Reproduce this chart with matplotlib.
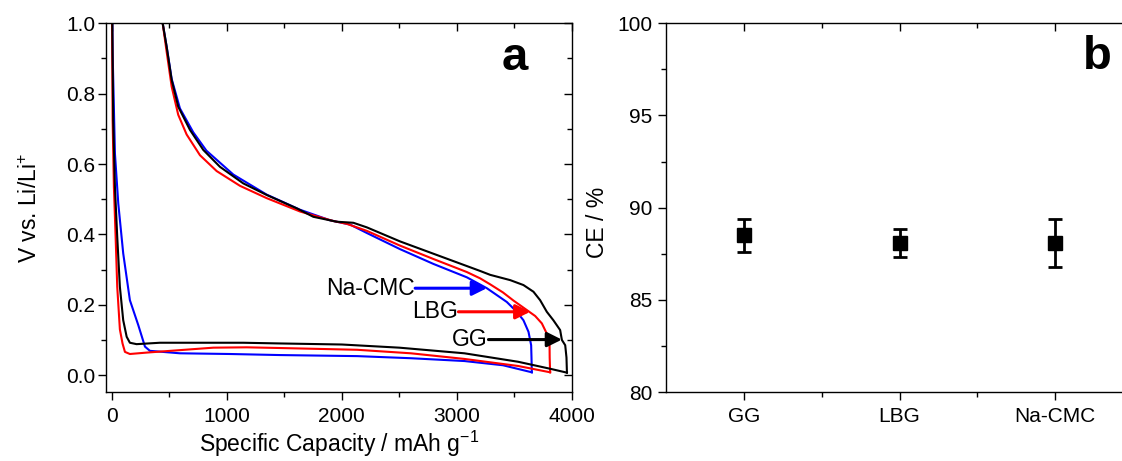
import matplotlib
matplotlib.use('Agg')
import matplotlib.pyplot as plt
from matplotlib.ticker import MultipleLocator, FixedLocator, FormatStrFormatter

plt.rcParams['font.family'] = ['Liberation Sans', 'DejaVu Sans']
plt.rcParams['mathtext.fontset'] = 'custom'
plt.rcParams['mathtext.rm'] = 'Liberation Sans'
plt.rcParams['mathtext.it'] = 'Liberation Sans'

# --- first-cycle voltage profiles (capacity in mAh/g, voltage in V) ---
gg_lith_x = [0, 5, 13, 28, 48, 71, 100, 130, 158, 216, 419, 1143, 1463, 2000, 2500,
             3065, 3531, 3811, 3956]
gg_lith_y = [1.2, 1.0, 0.725, 0.535, 0.393, 0.251, 0.156, 0.109, 0.092, 0.088, 0.092,
             0.092, 0.090, 0.087, 0.078, 0.062, 0.038, 0.018, 0.007]
gg_delith_x = [3956, 3952, 3941, 3912, 3897, 3838, 3781, 3723, 3665, 3578, 3463, 3289,
               3202, 3086, 2796, 2506, 2217, 2100, 1956, 1752, 1608, 1347, 1143, 941,
               796, 680, 578, 521, 477, 443, 420]
gg_delith_y = [0.007, 0.05, 0.085, 0.10, 0.128, 0.156, 0.18, 0.213, 0.237, 0.256, 0.27,
               0.285, 0.296, 0.31, 0.345, 0.38, 0.42, 0.433, 0.436, 0.450, 0.474, 0.512,
               0.545, 0.592, 0.640, 0.697, 0.763, 0.839, 0.934, 1.0, 1.08]

lbg_lith_x = [0, 3, 8, 19, 34, 48, 71, 94, 115, 158, 303, 593, 883, 1173, 1463, 2133,
              2600, 3065, 3531, 3810]
lbg_lith_y = [1.2, 1.0, 0.725, 0.535, 0.393, 0.251, 0.13, 0.09, 0.066, 0.060, 0.064,
              0.071, 0.078, 0.079, 0.077, 0.072, 0.062, 0.046, 0.026, 0.008]
lbg_delith_x = [3810, 3806, 3805, 3781, 3738, 3680, 3620, 3491, 3400, 3289, 3202, 3086,
                2796, 2506, 2217, 2043, 1926, 1637, 1347, 1115, 912, 767, 651, 578,
                521, 477, 443, 420]
lbg_delith_y = [0.008, 0.05, 0.085, 0.118, 0.147, 0.168, 0.182, 0.212, 0.235, 0.258,
                0.275, 0.293, 0.330, 0.368, 0.410, 0.430, 0.438, 0.465, 0.503, 0.538,
                0.580, 0.625, 0.684, 0.740, 0.820, 0.92, 1.0, 1.08]

cmc_lith_x = [0, 4, 8, 28, 57, 100, 158, 231, 289, 332, 593, 1028, 1463, 2133, 2600,
              3065, 3400, 3651]
cmc_lith_y = [1.2, 1.05, 0.915, 0.630, 0.488, 0.346, 0.213, 0.142, 0.081, 0.069, 0.062,
              0.060, 0.057, 0.054, 0.048, 0.040, 0.028, 0.008]
cmc_delith_x = [3651, 3648, 3645, 3622, 3578, 3520, 3433, 3260, 3086, 2796, 2506, 2217,
                2071, 1898, 1637, 1347, 1057, 823, 709, 593, 521, 477, 443, 420]
cmc_delith_y = [0.008, 0.05, 0.085, 0.123, 0.156, 0.18, 0.208, 0.247, 0.278, 0.316,
                0.358, 0.404, 0.428, 0.44, 0.470, 0.513, 0.570, 0.638, 0.690, 0.758,
                0.842, 0.935, 1.0, 1.08]

# arrow labels: (text, start x, tip x, y)
arrow_labels = ['Na-CMC', 'LBG', 'GG']
arrow_x0 = [2637, 3013, 3274]
arrow_x1 = [3260, 3637, 3912]
arrow_y = [0.247, 0.180, 0.101]
arrow_colors = ['blue', 'red', 'black']

# --- coulombic efficiency ---
binders = ['GG', 'LBG', 'Na-CMC']
ce_mean = [88.5, 88.1, 88.1]
ce_err = [0.9, 0.75, 1.3]

W, H = 1122, 461
fig = plt.figure(figsize=(W / 100, H / 100), dpi=100)
ax1 = fig.add_axes([106.3 / W, 1 - 392 / H, (572 - 106.3) / W, (392 - 23.3) / H])
ax2 = fig.add_axes([666.4 / W, 1 - 392 / H, (1132.8 - 666.4) / W, (392 - 23.3) / H])

for ax in (ax1, ax2):
    for s in ax.spines.values():
        s.set_linewidth(1.0)
    ax.tick_params(which='both', width=1.0, labelsize=15, direction='out',
                   top=True, right=True)
    ax.tick_params(which='major', length=6)
    ax.tick_params(which='minor', length=3.5)
    ax.tick_params(axis='x', which='both', pad=5)


def mirror_in(ax):
    # ticks on the top and right spines point into the plot
    for t in ax.xaxis.get_major_ticks() + ax.xaxis.get_minor_ticks():
        t.tick2line.set_marker(3)
    for t in ax.yaxis.get_major_ticks() + ax.yaxis.get_minor_ticks():
        t.tick2line.set_marker(0)


# panel a
for lx, ly, dx, dy, c in [(cmc_lith_x, cmc_lith_y, cmc_delith_x, cmc_delith_y, 'blue'),
                          (lbg_lith_x, lbg_lith_y, lbg_delith_x, lbg_delith_y, 'red'),
                          (gg_lith_x, gg_lith_y, gg_delith_x, gg_delith_y, 'black')]:
    ax1.plot(lx, ly, color=c, lw=1.5)
    ax1.plot(dx, dy, color=c, lw=1.5)

for lab, x0, x1, y, c in zip(arrow_labels, arrow_x0, arrow_x1, arrow_y, arrow_colors):
    ax1.annotate('', xy=(x1, y), xytext=(x0, y),
                 arrowprops=dict(arrowstyle='-|>', color=c, lw=2.2, mutation_scale=22,
                                 shrinkA=0, shrinkB=0))
    ax1.text(x0 - 5, y, lab, ha='right', va='center', fontsize=16.5)

ax1.set_xlim(-47, 4000)
ax1.set_ylim(-0.048, 1.0)
ax1.xaxis.set_major_locator(MultipleLocator(1000))
ax1.xaxis.set_minor_locator(MultipleLocator(500))
ax1.yaxis.set_major_locator(MultipleLocator(0.2))
ax1.yaxis.set_minor_locator(MultipleLocator(0.1))
ax1.yaxis.set_major_formatter(FormatStrFormatter('%.1f'))
ax1.tick_params(axis='y', pad=2)
ax1.set_xlabel('Specific Capacity / mAh g$^{-1}$', fontsize=16.5, labelpad=2)
ax1.set_ylabel('V vs. Li/Li$^{+}$', fontsize=16.5)
ax1.yaxis.set_label_coords(-0.137, 0.5)
ax1.text(0.878, 0.905, 'a', transform=ax1.transAxes, fontsize=34, fontweight='bold',
         ha='center', va='center')
mirror_in(ax1)

# panel b
xpos = list(range(1, len(binders) + 1))
ax2.errorbar(xpos, ce_mean, yerr=ce_err, fmt='s', color='black', ms=9.5,
             elinewidth=2, capsize=5, capthick=2)
ax2.set_xlim(0.5, 3.5)
ax2.set_ylim(80, 100)
ax2.xaxis.set_major_locator(FixedLocator(xpos))
ax2.xaxis.set_minor_locator(FixedLocator([1.5, 2.5]))
ax2.set_xticklabels(binders)
ax2.yaxis.set_major_locator(MultipleLocator(5))
ax2.yaxis.set_minor_locator(MultipleLocator(2.5))
ax2.tick_params(axis='y', pad=4)
ax2.set_ylabel('CE / %', fontsize=16.5)
ax2.yaxis.set_label_coords(-0.123, 0.46)
fig.text(1097 / W, 1 - 57 / H, 'b', fontsize=34, fontweight='bold',
         ha='center', va='center')
mirror_in(ax2)

fig.savefig('out.png', dpi=100, facecolor='white')
